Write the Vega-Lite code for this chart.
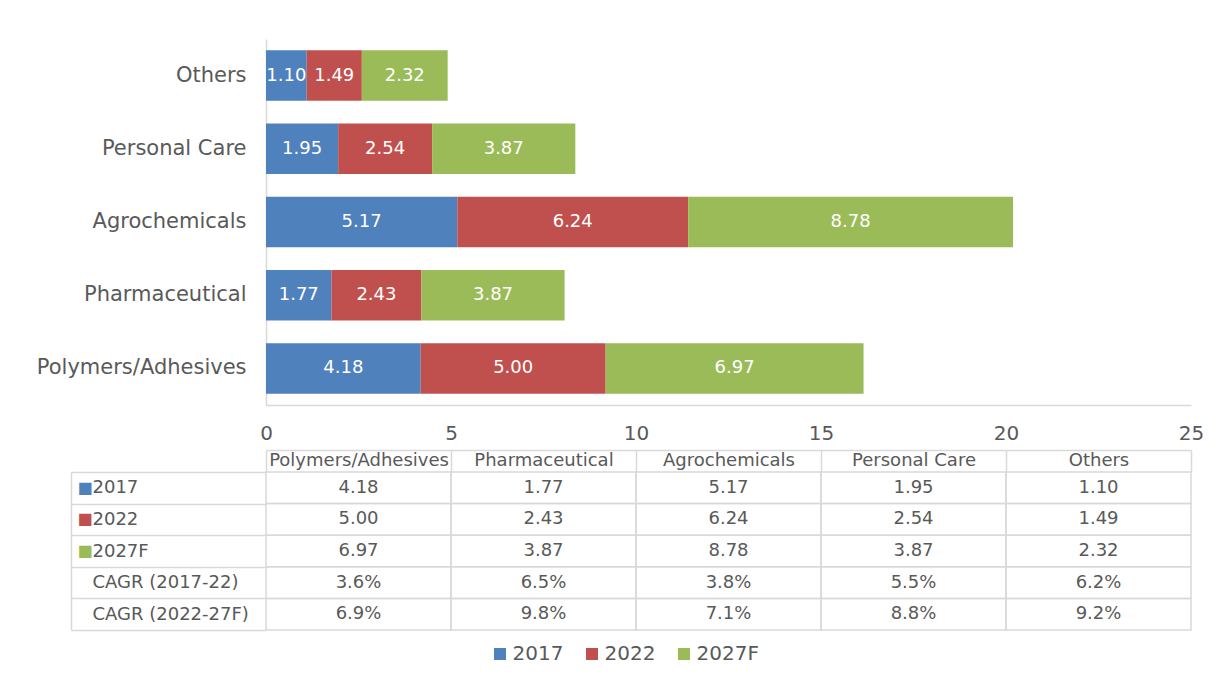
{
  "$schema": "https://vega.github.io/schema/vega-lite/v6.json",
  "padding": {"left": 36, "top": 39, "right": 0, "bottom": 0},
  "background": "white",
  "config": {
    "font": "DejaVu Sans",
    "view": {"stroke": null},
    "axis": {"labelFont": "DejaVu Sans"},
    "legend": {"labelFont": "DejaVu Sans"}
  },
  "datasets": {
    "d": [
      {"category": "Polymers/Adhesives", "series": "2017", "value": 4.18},
      {"category": "Polymers/Adhesives", "series": "2022", "value": 5.00},
      {"category": "Polymers/Adhesives", "series": "2027F", "value": 6.97},
      {"category": "Polymers/Adhesives", "series": "CAGR (2017-22)", "value": 0.036},
      {"category": "Polymers/Adhesives", "series": "CAGR (2022-27F)", "value": 0.069},
      {"category": "Pharmaceutical", "series": "2017", "value": 1.77},
      {"category": "Pharmaceutical", "series": "2022", "value": 2.43},
      {"category": "Pharmaceutical", "series": "2027F", "value": 3.87},
      {"category": "Pharmaceutical", "series": "CAGR (2017-22)", "value": 0.065},
      {"category": "Pharmaceutical", "series": "CAGR (2022-27F)", "value": 0.098},
      {"category": "Agrochemicals", "series": "2017", "value": 5.17},
      {"category": "Agrochemicals", "series": "2022", "value": 6.24},
      {"category": "Agrochemicals", "series": "2027F", "value": 8.78},
      {"category": "Agrochemicals", "series": "CAGR (2017-22)", "value": 0.038},
      {"category": "Agrochemicals", "series": "CAGR (2022-27F)", "value": 0.071},
      {"category": "Personal Care", "series": "2017", "value": 1.95},
      {"category": "Personal Care", "series": "2022", "value": 2.54},
      {"category": "Personal Care", "series": "2027F", "value": 3.87},
      {"category": "Personal Care", "series": "CAGR (2017-22)", "value": 0.055},
      {"category": "Personal Care", "series": "CAGR (2022-27F)", "value": 0.088},
      {"category": "Others", "series": "2017", "value": 1.10},
      {"category": "Others", "series": "2022", "value": 1.49},
      {"category": "Others", "series": "2027F", "value": 2.32},
      {"category": "Others", "series": "CAGR (2017-22)", "value": 0.062},
      {"category": "Others", "series": "CAGR (2022-27F)", "value": 0.092}
    ]
  },
  "data": {"name": "d"},
  "spacing": 6,
  "vconcat": [
    {
      "width": 925,
      "height": 366,
      "transform": [
        {"filter": "datum.series === '2017' || datum.series === '2022' || datum.series === '2027F'"},
        {"stack": "value", "groupby": ["category"], "sort": [{"field": "series", "order": "ascending"}], "as": ["x0", "x1"]},
        {"calculate": "(datum.x0 + datum.x1) / 2", "as": "mid"}
      ],
      "encoding": {
        "y": {
          "field": "category", "type": "nominal",
          "sort": ["Others", "Personal Care", "Agrochemicals", "Pharmaceutical", "Polymers/Adhesives"],
          "scale": {"paddingInner": 0.31, "paddingOuter": 0.155},
          "axis": {"title": null, "ticks": false, "domain": true, "domainColor": "#d9d9d9", "domainWidth": 1.5, "labelFontSize": 21, "labelColor": "#595959", "labelPadding": 20, "labelLimit": 0, "grid": false}
        }
      },
      "layer": [
        {
          "mark": {"type": "bar"},
          "encoding": {
            "x": {"field": "x0", "type": "quantitative", "scale": {"domain": [0, 25], "nice": false},
              "axis": {"title": null, "values": [0, 5, 10, 15, 20, 25], "ticks": false, "grid": false, "domainColor": "#d9d9d9", "domainWidth": 1.5, "labelFontSize": 20, "labelColor": "#595959", "labelPadding": 18, "labelFlush": false, "format": "d"}},
            "x2": {"field": "x1"},
            "color": {
              "field": "series", "type": "nominal",
              "scale": {"domain": ["2017", "2022", "2027F"], "range": ["#4F81BD", "#C0504D", "#9BBB59"]},
              "legend": {"title": null, "orient": "none", "legendX": 224, "legendY": 605, "direction": "horizontal", "symbolType": "square", "symbolSize": 144, "symbolStrokeWidth": 0, "labelFontSize": 20, "labelColor": "#595959", "labelOffset": 2.5, "columnPadding": 18}
            }
          }
        },
        {
          "mark": {"type": "text", "color": "white", "fontSize": 18},
          "encoding": {
            "x": {"field": "mid", "type": "quantitative"},
            "text": {"field": "value", "type": "quantitative", "format": ".2f"}
          }
        }
      ]
    },
    {
      "width": 925,
      "height": 158,
      "encoding": {
        "x": {
          "field": "category", "type": "nominal",
          "sort": ["Polymers/Adhesives", "Pharmaceutical", "Agrochemicals", "Personal Care", "Others"],
          "scale": {"paddingInner": 0, "paddingOuter": 0},
          "axis": {"orient": "top", "offset": 22, "title": null, "grid": false, "domainColor": "#d9d9d9", "domainWidth": 1.5, "tickBand": "extent", "tickSize": -22, "tickColor": "#d9d9d9", "tickWidth": 1.5, "labelAngle": 0, "labelBaseline": "middle", "labelPadding": 12, "labelFontSize": 18, "labelColor": "#595959", "labelOverlap": false, "labelLimit": 0}
        }
      },
      "layer": [
        {
          "mark": {"type": "rect", "fillOpacity": 0, "stroke": "#d9d9d9", "strokeWidth": 1.5},
          "encoding": {
            "y": {
              "field": "series", "type": "nominal",
              "sort": ["2017", "2022", "2027F", "CAGR (2017-22)", "CAGR (2022-27F)"],
              "scale": {"paddingInner": 0, "paddingOuter": 0},
              "axis": {"orient": "left", "offset": 195, "title": null, "domain": false, "ticks": false, "tickSize": 0, "grid": false,
                "labelExpr": "datum.value == '2017' || datum.value == '2022' || datum.value == '2027F' ? '■' : ''",
                "labelAlign": "left", "labelBaseline": "middle", "labelPadding": -6, "labelFontSize": 16,
                "labelColor": {"expr": "datum.value == '2017' ? '#4F81BD' : datum.value == '2022' ? '#C0504D' : '#9BBB59'"}}
            }
          }
        },
        {
          "transform": [{"filter": "datum.series === '2017' || datum.series === '2022' || datum.series === '2027F'"}],
          "mark": {"type": "text", "fontSize": 18, "color": "#595959"},
          "encoding": {
            "y": {
              "field": "series", "type": "nominal",
              "sort": ["2017", "2022", "2027F", "CAGR (2017-22)", "CAGR (2022-27F)"],
              "axis": {"orient": "left", "offset": 195, "title": null, "grid": false, "domain": true, "domainColor": "#d9d9d9", "domainWidth": 1.5, "ticks": true, "tickBand": "extent", "tickSize": -195, "tickColor": "#d9d9d9", "tickWidth": 1.5, "labelAlign": "left", "labelBaseline": "middle", "labelPadding": 174, "labelFontSize": 18, "labelColor": "#595959", "labelLimit": 0}
            },
            "text": {"field": "value", "type": "quantitative", "format": ".2f"}
          }
        },
        {
          "transform": [{"filter": "datum.series === 'CAGR (2017-22)' || datum.series === 'CAGR (2022-27F)'"}],
          "mark": {"type": "text", "fontSize": 18, "color": "#595959"},
          "encoding": {
            "y": {
              "field": "series", "type": "nominal",
              "sort": ["2017", "2022", "2027F", "CAGR (2017-22)", "CAGR (2022-27F)"],
              "axis": null
            },
            "text": {"field": "value", "type": "quantitative", "format": ".1%"}
          }
        }
      ],
      "resolve": {"axis": {"y": "independent"}}
    }
  ]
}
